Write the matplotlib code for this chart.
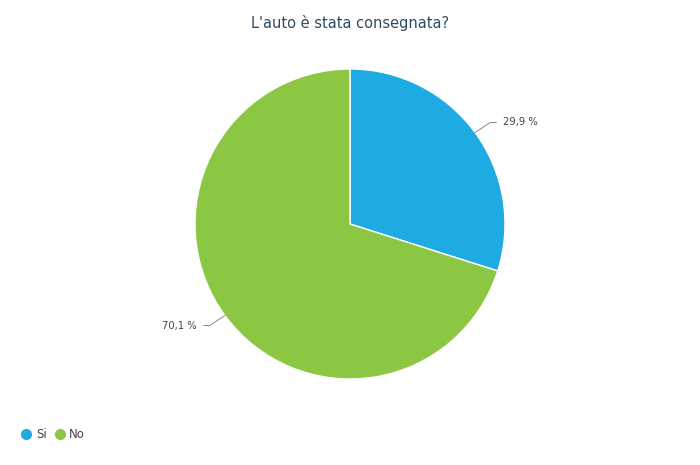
import numpy as np
import matplotlib.pyplot as plt
from matplotlib.lines import Line2D

labels = ["Si", "No"]
values = [29.9, 70.1]
colors = ["#1eaae2", "#8bc743"]
pct_labels = ["29,9 %", "70,1 %"]

fig = plt.figure(figsize=(7, 4.65), dpi=100)
ax = fig.add_axes([0, 0, 1, 1])

cx, cy, r = 350, 465 - 224, 155
wedges, _ = ax.pie(values, colors=colors, startangle=90, counterclock=False,
                   center=(cx, cy), radius=r, frame=True,
                   wedgeprops=dict(edgecolor="white", linewidth=1))
ax.set_xlim(0, 700)
ax.set_ylim(0, 465)
ax.set_aspect("equal")
ax.axis("off")

# leader lines + labels
for w, txt in zip(wedges, pct_labels):
    ang = np.deg2rad((w.theta1 + w.theta2) / 2)
    ex, ey = cx + r * np.cos(ang), cy + r * np.sin(ang)
    side = 1 if np.cos(ang) > 0 else -1
    mx, my = ex + side * 15 * abs(np.cos(ang)) + side * 3, ey + 10 * np.sign(np.sin(ang))
    hx = mx + side * 6
    ax.plot([ex, mx, hx], [ey, my, my], color="#888888", lw=0.7)
    ax.text(hx + side * 7, my, txt, fontsize=7.2, color="#444444",
            ha="left" if side > 0 else "right", va="center")

ax.text(350, 465 - 23, "L'auto è stata consegnata?", fontsize=10.5, color="#2e4a62",
        ha="center", va="center")

handles = [Line2D([], [], marker="o", ls="", markersize=7, color=c) for c in colors]
fig.legend(handles, labels, loc="lower left", bbox_to_anchor=(0.031, 0.052), ncol=2,
           frameon=False, borderpad=0, borderaxespad=0, handlelength=0.8,
           handletextpad=0.4, columnspacing=0.7, fontsize=8.5,
           labelcolor="#444444")

fig.savefig("out.png", dpi=100)
